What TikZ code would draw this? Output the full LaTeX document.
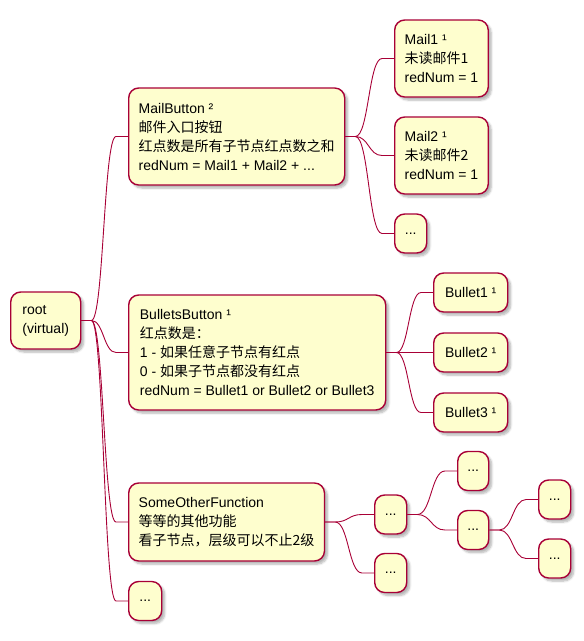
\documentclass[tikz,border=0pt]{standalone}
\usepackage{fontspec}
\setmainfont{Liberation Sans}
\newfontfamily\cjk{Noto Sans CJK SC}
\usetikzlibrary{calc,shadows.blur}
\definecolor{mmred}{HTML}{A80036}
\definecolor{mmfill}{HTML}{FEFECE}
\tikzset{
  mmbox/.style={draw=mmred, fill=mmfill, line width=1.4pt, rounded corners=10pt,
    inner xsep=10pt, inner ysep=0pt, anchor=west, align=left,
    font=\fontsize{14}{19}\selectfont,
    blur shadow={shadow xshift=3pt, shadow yshift=-3pt, shadow opacity=30, shadow blur steps=6}},
  dotbox/.style={mmbox, align=center, inner xsep=0pt, minimum height=39pt},
  mmlink/.style={draw=mmred, line width=0.9pt},
}
\newcommand\mmconnect[2]{%
  \draw[mmlink] let \p1=(#1.east), \p2=(#2.west) in
    (\p1) -- (\x1+10pt,\y1) .. controls ({0.5*\x1+0.5*\x2-1pt},\y1) and ({0.5*\x1+0.5*\x2-1pt},\y2) .. (\x2-12pt,\y2) -- (\p2);}
\begin{document}
\begin{tikzpicture}[x=1pt,y=-1pt]
\useasboundingbox (0,0) rectangle (584,641);
% level 0
\node[mmbox, minimum width=70pt, minimum height=57pt] (root) at (10,320.5) {root\\(virtual)};
% level 1
\node[mmbox, minimum width=216pt, minimum height=97pt] (mail) at (128,136.5)
  {MailButton ²\\{\cjk 邮件入口按钮}\\{\cjk 红点数是所有子节点红点数之和}\\redNum = Mail1 + Mail2 + ...};
\node[mmbox, minimum width=257pt, minimum height=115pt] (bullets) at (128,352.5)
  {BulletsButton ¹\\{\cjk 红点数是：}\\1 - {\cjk 如果任意子节点有红点}\\0 - {\cjk 如果子节点都没有红点}\\redNum = Bullet1 or Bullet2 or Bullet3};
\node[mmbox, minimum width=195pt, minimum height=78pt] (other) at (128,522)
  {SomeOtherFunction\\{\cjk 等等的其他功能}\\{\cjk 看子节点，层级可以不止2级}};
\node[dotbox, minimum width=33pt] (more) at (128,601) {...};
% level 2: mail
\node[mmbox, minimum width=93pt, minimum height=77pt] (mail1) at (394,58.5)
  {Mail1 ¹\\{\cjk 未读邮件1}\\redNum = 1};
\node[mmbox, minimum width=93pt, minimum height=77pt] (mail2) at (394,155.5)
  {Mail2 ¹\\{\cjk 未读邮件2}\\redNum = 1};
\node[dotbox, minimum width=32pt] (mail3) at (394,233.5) {...};
% level 2: bullets
\node[mmbox, minimum width=74pt, minimum height=39pt] (b1) at (433,292.5) {Bullet1 ¹};
\node[mmbox, minimum width=74pt, minimum height=39pt] (b2) at (433,352.5) {Bullet2 ¹};
\node[mmbox, minimum width=74pt, minimum height=39pt] (b3) at (433,412.5) {Bullet3 ¹};
% level 2+: other
\node[dotbox, minimum width=32pt] (oa) at (374,514.5) {...};
\node[dotbox, minimum width=32pt] (ob) at (374,573) {...};
\node[dotbox, minimum width=31pt] (oc) at (457,471) {...};
\node[dotbox, minimum width=31pt] (od) at (457,530) {...};
\node[dotbox, minimum width=32pt] (oe) at (538,499.5) {...};
\node[dotbox, minimum width=32pt] (of) at (538,558.5) {...};
% connectors
\mmconnect{root}{mail}
\mmconnect{root}{bullets}
\mmconnect{root}{other}
\mmconnect{root}{more}
\mmconnect{mail}{mail1}
\mmconnect{mail}{mail2}
\mmconnect{mail}{mail3}
\mmconnect{bullets}{b1}
\mmconnect{bullets}{b2}
\mmconnect{bullets}{b3}
\mmconnect{other}{oa}
\mmconnect{other}{ob}
\mmconnect{oa}{oc}
\mmconnect{oa}{od}
\mmconnect{od}{oe}
\mmconnect{od}{of}
\end{tikzpicture}
\end{document}
